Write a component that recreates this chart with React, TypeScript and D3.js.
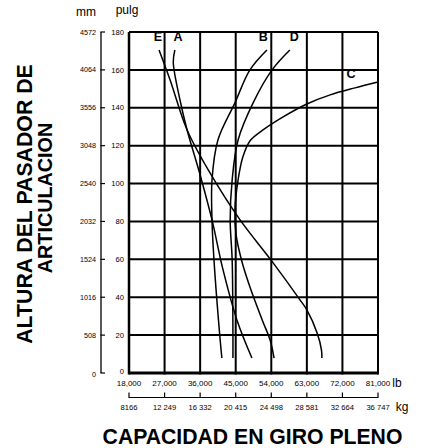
import React from "react";
import * as d3 from "d3";

const lbTicks = [18000, 27000, 36000, 45000, 54000, 63000, 72000, 81000];
const lbLabels = ["18,000", "27,000", "36,000", "45,000", "54,000", "63,000", "72,000", "81,000"];
const kgLabels = ["8166", "12 249", "16 332", "20 415", "24 498", "28 581", "32 664", "36 747"];
const pulgTicks = [0, 20, 40, 60, 80, 100, 120, 140, 160, 180];
const mmLabels = ["0", "508", "1016", "1524", "2032", "2540", "3048", "3556", "4064", "4572"];

// [lb, pulg]
const curveE: [number, number][] = [
  [25600, 170.5], [28400, 154.7], [32700, 128.3], [38500, 105.6], [46100, 80.8],
  [53900, 59.7], [61300, 38.5], [63000, 33.3], [65600, 21.1], [66700, 12.1], [66800, 7.9],
];
const curveA: [number, number][] = [
  [29600, 170.5], [29200, 164.0], [30900, 144.1], [32700, 128.3], [36000, 104.5],
  [39000, 80.8], [41800, 54.4], [45300, 28.0], [49100, 7.9],
];
const curveB: [number, number][] = [
  [52900, 170.5], [48600, 160.0], [44800, 142.6], [40500, 123.0], [39000, 101.9],
  [39000, 80.8], [39500, 59.7], [41000, 19.0], [41500, 7.9],
];
const curveD: [number, number][] = [
  [58700, 170.5], [54200, 160.0], [49400, 142.6], [45600, 123.0], [44100, 101.9],
  [43600, 80.8], [44100, 59.7], [44300, 19.0], [44300, 7.9],
];
const curveC: [number, number][] = [
  [81000, 153.6], [75200, 150.5], [68900, 146.8], [63000, 142.0], [57000, 135.2],
  [51900, 128.3], [48600, 122.5], [46800, 114.0], [45600, 101.9], [44800, 86.1],
  [45100, 72.9], [46600, 58.6], [48600, 45.4], [51700, 28.0], [53700, 17.4], [54700, 7.9],
];
const curves = [curveE, curveA, curveB, curveD, curveC];
const curveLabels = [
  { t: "E", lb: 25300, p: 175 },
  { t: "A", lb: 30400, p: 175 },
  { t: "B", lb: 52000, p: 175 },
  { t: "D", lb: 59800, p: 175 },
  { t: "C", lb: 74200, p: 155.5 },
];

const FONT = "'Liberation Sans', Arial, Helvetica, sans-serif";

export default function App() {
  const x = d3.scaleLinear().domain([18000, 81000]).range([129, 378]);
  const y = d3.scaleLinear().domain([0, 180]).range([373, 32]);
  const line = d3
    .line<[number, number]>()
    .x((d) => x(d[0]))
    .y((d) => y(d[1]))
    .curve(d3.curveCatmullRom.alpha(0.5));
  const axX = 101;

  return (
    <svg width={430} height={448} style={{ position: "absolute", left: 0, top: 0 }} fontFamily={FONT}>
      <rect width={430} height={448} fill="#fff" />
      {/* headers */}
      <text x={86} y={16} fontSize={12} textAnchor="middle">mm</text>
      <text x={127} y={14} fontSize={12} textAnchor="middle">pulg</text>

      {/* grid */}
      {pulgTicks.map((p) => (
        <line key={"h" + p} x1={x(18000)} x2={x(81000)} y1={y(p)} y2={y(p)} stroke="#000" strokeWidth={p === 0 ? 3 : 2} />
      ))}
      {lbTicks.map((v, i) => (
        <line key={"v" + v} x1={x(v)} x2={x(v)} y1={y(180)} y2={y(0) + 1.5} stroke="#000" strokeWidth={i === 0 ? 2.5 : 2} />
      ))}

      {/* left double axis */}
      <line x1={axX} x2={axX} y1={y(180)} y2={y(0)} stroke="#000" strokeWidth={1.3} />
      {pulgTicks.map((p, i) => (
        <g key={"t" + p}>
          <line x1={axX - 0.6} x2={axX + 4} y1={y(p)} y2={y(p)} stroke="#000" strokeWidth={1.2} />
          <text x={124} y={y(p)} dy={p === 0 ? "0.1em" : "0.35em"} fontSize={7.6} textAnchor="end">{p}</text>
          <text x={96} y={y(p)} dy={p === 0 ? "0.5em" : "0.35em"} fontSize={7.2} textAnchor="end">{mmLabels[i]}</text>
        </g>
      ))}

      {/* curves */}
      {curves.map((c, i) => (
        <path key={"c" + i} d={line(c) || ""} fill="none" stroke="#000" strokeWidth={1.5} />
      ))}
      {curveLabels.map((l) => (
        <text key={l.t} x={x(l.lb)} y={y(l.p)} fontSize={12.5} fontWeight="bold" textAnchor="middle">{l.t}</text>
      ))}

      {/* lb axis */}
      {lbTicks.map((v, i) => (
        <text key={"lb" + v} x={x(v)} y={386} fontSize={8} textAnchor="middle">{lbLabels[i]}</text>
      ))}
      <text x={397} y={387} fontSize={12} textAnchor="middle">lb</text>

      {/* kg axis */}
      <line x1={x(18000)} x2={x(81000)} y1={397.5} y2={397.5} stroke="#000" strokeWidth={1.2} />
      {lbTicks.map((v, i) => (
        <g key={"kg" + v}>
          <line x1={x(v)} x2={x(v)} y1={392.5} y2={398} stroke="#000" strokeWidth={1.2} />
          <text x={x(v)} y={410} fontSize={7.6} textAnchor="middle">{kgLabels[i]}</text>
        </g>
      ))}
      <text x={402} y={411} fontSize={12} textAnchor="middle">kg</text>

      {/* titles */}
      <text x={252.5} y={444} fontSize={21.2} fontWeight="bold" textAnchor="middle">CAPACIDAD EN GIRO PLENO</text>
      <text transform="translate(32,204) rotate(-90)" fontSize={21.3} fontWeight="bold" textAnchor="middle">ALTURA DEL PASADOR DE</text>
      <text transform="translate(52,198) rotate(-90)" fontSize={19.8} fontWeight="bold" textAnchor="middle">ARTICULACION</text>
    </svg>
  );
}
